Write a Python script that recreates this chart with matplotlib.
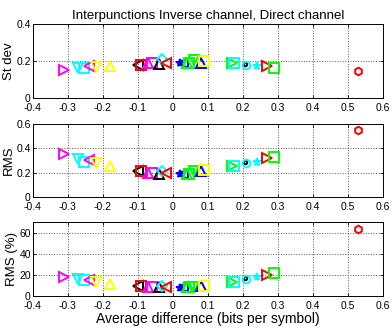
import matplotlib
matplotlib.use("Agg")
import matplotlib.pyplot as plt

plt.rcParams['font.family'] = ['Liberation Sans', 'DejaVu Sans']

avg_diff = [-0.31, -0.27, -0.255, -0.24, -0.22, -0.18, -0.10, -0.09, -0.07, -0.06,
            -0.04, -0.03, -0.02, 0.02, 0.03, 0.04, 0.045, 0.06, 0.08, 0.09,
            0.17, 0.175, 0.205, 0.21, 0.24, 0.27, 0.29, 0.53]
st_dev = [0.15, 0.16, 0.16, 0.175, 0.17, 0.175, 0.18, 0.18, 0.19, 0.19,
          0.185, 0.21, 0.19, 0.19, 0.19, 0.19, 0.19, 0.205, 0.19, 0.20,
          0.19, 0.19, 0.185, 0.18, 0.175, 0.175, 0.16, 0.145]
rms = [0.35, 0.31, 0.29, 0.30, 0.275, 0.25, 0.21, 0.21, 0.20, 0.20,
       0.185, 0.21, 0.20, 0.185, 0.19, 0.19, 0.19, 0.21, 0.21, 0.22,
       0.25, 0.25, 0.29, 0.28, 0.29, 0.32, 0.33, 0.55]
rms_pct = [18, 16, 15, 15, 13, 11, 10, 10, 9, 9,
           9, 10, 9, 8, 9, 9, 9, 9, 10, 10,
           13, 13, 17, 16, 18, 20, 22, 64]
markers = ['>', 'v', 's', '<', 'v', '^', '<', 's', '^', 's',
           '^', 'D', '<', '*', '<', '^', 's', 'v', '^', 's',
           '>', 's', '.', 'o', '*', '>', 's', 'h']
colors = ['magenta', 'cyan', 'cyan', 'magenta', 'yellow', 'yellow', 'black', 'red', 'magenta', 'magenta',
          'black', 'cyan', 'red', 'blue', 'blue', 'lime', 'lime', 'lime', 'blue', 'yellow',
          'lime', 'cyan', 'black', 'cyan', 'cyan', 'red', 'lime', 'red']

panels = [
    (st_dev, 'St dev', (0, 0.4), [0, 0.2, 0.4], ['0', '0.2', '0.4']),
    (rms, 'RMS', (0, 0.6), [0, 0.2, 0.4, 0.6], ['0', '0.2', '0.4', '0.6']),
    (rms_pct, 'RMS (%)', (0, 70), [0, 20, 40, 60], ['0', '20', '40', '60']),
]
xticks = [-0.4, -0.3, -0.2, -0.1, 0, 0.1, 0.2, 0.3, 0.4, 0.5, 0.6]
xticklabels = ['-0.4', '-0.3', '-0.2', '-0.1', '0', '0.1', '0.2', '0.3', '0.4', '0.5', '0.6']

fig = plt.figure(figsize=(3.92, 3.33), dpi=100)
bottoms = [0.706, 0.408, 0.111]
for (vals, ylabel, ylim, yt, ytl), b in zip(panels, bottoms):
    ax = fig.add_axes([0.084, b, 0.893, 0.221])
    for x, y, m, c in zip(avg_diff, vals, markers, colors):
        ms = 6.5
        if m in ('*', 'h', 'o', 'D'):
            ms = 5.5
        if m == '.':
            ms = 5
        ax.plot([x], [y], linestyle='none', marker=m, markersize=ms,
                markerfacecolor='none', markeredgecolor=c, markeredgewidth=1.4,
                color=c)
    ax.set_xlim(-0.4, 0.6)
    ax.set_ylim(*ylim)
    ax.set_xticks(xticks)
    ax.set_xticklabels(xticklabels)
    ax.set_yticks(yt)
    ax.set_yticklabels(ytl)
    ax.tick_params(labelsize=7.5, direction='in', length=2, width=0.6,
                   top=True, right=True)
    ax.tick_params(axis='x', pad=3.5)
    ax.tick_params(axis='y', pad=1.5)
    ax.grid(True, linestyle=':', color='#555555', linewidth=0.7)
    ax.set_ylabel(ylabel, fontsize=9.5, labelpad=1)
    for s in ax.spines.values():
        s.set_linewidth(0.7)
    if b == bottoms[0]:
        ax.set_title('Interpunctions Inverse channel, Direct channel', fontsize=9.5, pad=4)
    if b == bottoms[-1]:
        ax.set_xlabel('Average difference (bits per symbol)', fontsize=10, labelpad=1)

fig.savefig('out.png', dpi=100)
